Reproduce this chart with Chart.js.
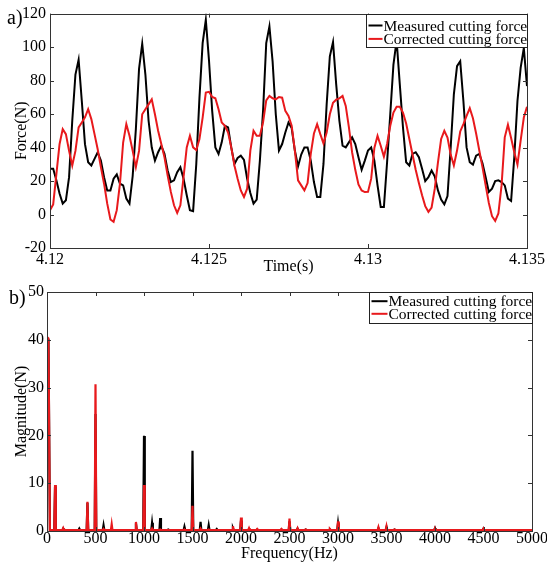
<!DOCTYPE html>
<html>
<head>
<meta charset="utf-8">
<script src="https://cdn.jsdelivr.net/npm/chart.js@4.4.1/dist/chart.umd.min.js"></script>
<style>
  html, body { margin: 0; padding: 0; background: #fff; }
  canvas { position: absolute; left: 0; }
</style>
</head>
<body>
<canvas id="force" width="547" height="278" style="top:0"></canvas>
<canvas id="spec" width="547" height="288" style="top:278px"></canvas>
<script>
// a) cutting force, sampled at 10 kHz starting at 4.12 s
const t0 = 4.12;
const dt = 0.0001;
const measuredForce = [
  27.3, 27.3, 20.4, 12.5, 6.5, 8.5, 22.3, 56, 83.6, 92.5,
  67.8, 42, 31.2, 29.3, 33.2, 37.2, 32.2, 22.3, 14.4, 14.4,
  21.4, 24, 18.4, 17.4, 9.5, 6.5, 23, 51, 87, 102,
  83.6, 56, 40, 32.2, 37.2, 41, 36.2, 26.3, 19.4, 20.4,
  25.3, 28.3, 21.4, 11.5, 2.6, 2, 30.2, 69.8, 102.4, 116.3,
  92, 61.9, 40.1, 36.2, 43.1, 53, 52, 40.1, 30.2, 33.8,
  35.2, 32.6, 21.4, 12.9, 6.5, 8.9, 32.2, 61.9, 102.4, 112.3,
  91.5, 59.9, 38.2, 42.1, 49, 55, 51.6, 38.2, 28.7, 35.8,
  40.1, 40.1, 32.2, 19.4, 10.5, 10.5, 30.2, 65.8, 94.5, 103,
  77.7, 56, 41.1, 40.1, 43.1, 46.1, 42.1, 34.2, 26.7, 32.2,
  38.2, 40.1, 32.2, 17.4, 4.5, 4.5, 31.2, 59.9, 89.6, 104,
  77.7, 52, 31.2, 29.3, 36.2, 37.2, 34.2, 27.3, 20, 22.3,
  26.3, 22.7, 14.4, 8.9, 6.1, 11, 40, 71.8, 88.6, 91.5,
  67.8, 40.1, 31.2, 29.8, 35.2, 36.2, 30.6, 22.3, 13.5, 15.4,
  20, 20.4, 19.4, 17.4, 9.5, 8.1, 34.2, 67.8, 87.6, 99.4,
  76.7
];
const correctedForce = [
  2.6, 6, 24, 42, 51, 48, 38, 29.3, 38, 52,
  55, 58, 62.9, 57, 48, 39, 28.3, 18.4, 6.5, -3,
  -4.4, 2.6, 18.4, 43, 54, 47, 38, 28.3, 38, 59.9,
  62.9, 65.8, 68.8, 59.9, 50, 42.1, 34.2, 23.3, 13.5, 5.5,
  1, 5.5, 22.3, 40.1, 47, 40.1, 38.5, 45.1, 57.9, 72.8,
  73.3, 70.2, 69.4, 62.9, 55, 53, 49, 40.1, 29.3, 21.4,
  14.4, 10.5, 15.4, 38.2, 50, 47, 47, 55, 68.2, 70.8,
  69.4, 68.8, 70.2, 69.8, 61.9, 58.9, 53, 38.2, 20.4, 17.4,
  14.4, 18.8, 36.2, 48.4, 54, 48, 42.5, 49, 59.9, 66.8,
  68.6, 69.4, 70.8, 64.9, 52, 37.2, 26.7, 18, 14.4, 13.4,
  13.5, 21.4, 39.7, 47, 41.1, 34.6, 42.1, 53, 60.9, 64.3,
  64.3, 60.9, 54.4, 45.1, 35.8, 26.7, 18.8, 11.5, 5, 1.6,
  4.2, 15.4, 31.2, 45.1, 50, 46, 35.8, 29.3, 38.2, 49.6,
  54, 58.9, 63.5, 57.5, 48.4, 38.2, 28.3, 17.4, 6.9, -1,
  -3.8, 0.6, 17.4, 46.1, 53.6, 45.7, 37.2, 29.9, 44.1, 57.9,
  64.3
];
const timeTicks = [4.12, 4.125, 4.13, 4.135];
const forceTicks = [-20, 0, 20, 40, 60, 80, 100, 120];

// b) spectrum: peak heights at each harmonic, flat noise floor between them
const peakFreq = [0, 83, 167, 333, 417, 500, 583, 667, 917, 1000, 1083, 1167, 1250, 1417, 1500, 1583, 1667, 1750,
  1917, 2000, 2083, 2167, 2417, 2500, 2583, 2667, 2917, 3000, 3417, 3500, 3583, 4000, 4500];
const measuredPeak = [40.3, 9.3, 0.5, 0.5, 5.9, 24.5, 1.2, 0.5, 1.6, 19.9, 1.7, 2.7, 0.3, 0.9, 16.8, 1.9, 1.2, 0.4,
  0.6, 2.2, 0.4, 0.3, 0.3, 2.0, 0.5, 0.3, 0.3, 1.6, 0.6, 0.8, 0.3, 0.6, 0.5];
const correctedPeak = [40.6, 9.6, 0.6, 0.2, 6.1, 30.7, 0.4, 1.4, 1.9, 9.6, 0.5, 0.3, 0.2, 0.3, 5.3, 0.5, 0.3, 0.2,
  1.0, 2.8, 0.6, 0.4, 0.4, 2.6, 0.6, 0.3, 0.4, 2.0, 0.8, 1.0, 0.3, 0.6, 0.5];
const dcLevel = [40.0, 40.3];   // second DC bin, measured / corrected
const noiseFloor = 0.2;
const freqTicks = [0, 500, 1000, 1500, 2000, 2500, 3000, 3500, 4000, 4500, 5000];
const magTicks = [0, 10, 20, 30, 40, 50];

const seriesNames = ["Measured cutting force", "Corrected cutting force"];
const seriesColors = ["#000000", "#e8191c"];

Chart.defaults.font.family = "'Liberation Serif', 'Times New Roman', serif";
Chart.defaults.font.size = 16;
Chart.defaults.color = "#000";

function timeSeries(values) {
  return values.map((v, i) => ({ x: t0 + i * dt, y: v }));
}

function spectrum(peaks, dc) {
  const pts = [{ x: 0, y: peaks[0] }, { x: 15, y: dc }, { x: 30, y: noiseFloor }];
  peakFreq.forEach((f, i) => {
    if (f === 0) return;
    pts.push({ x: f - 8, y: noiseFloor });
    pts.push({ x: f, y: peaks[i] });
    pts.push({ x: f + 8, y: noiseFloor });
  });
  pts.push({ x: 5000, y: noiseFloor });
  return pts;
}

// box round the plot, with short inward ticks on all four sides
const frameTicks = {
  id: "frameTicks",
  afterDatasetsDraw(chart) {
    const { ctx, chartArea: a, scales } = chart;
    const len = 4;
    ctx.save();
    ctx.strokeStyle = "#333";
    ctx.lineWidth = 1;
    ctx.beginPath();
    scales.x.ticks.forEach((t) => {
      const px = Math.round(scales.x.getPixelForValue(t.value)) + 0.5;
      ctx.moveTo(px, a.bottom);
      ctx.lineTo(px, a.bottom - len);
      ctx.moveTo(px, a.top);
      ctx.lineTo(px, a.top + len);
    });
    scales.y.ticks.forEach((t) => {
      const py = Math.round(scales.y.getPixelForValue(t.value)) + 0.5;
      ctx.moveTo(a.left, py);
      ctx.lineTo(a.left + len, py);
      ctx.moveTo(a.right, py);
      ctx.lineTo(a.right - len, py);
    });
    ctx.stroke();
    ctx.strokeRect(Math.round(a.left) + 0.5, Math.round(a.top) + 0.5, Math.round(a.width), Math.round(a.height));
    ctx.restore();
  },
};

// legend in a boxed corner, plus the panel letter
const boxLegend = {
  id: "boxLegend",
  afterDraw(chart, args, o) {
    const { ctx, chartArea: a } = chart;
    const x0 = Math.round(a.right - o.width) + 0.5;
    const y0 = Math.round(a.top) + 0.5;
    ctx.save();
    ctx.fillStyle = "#fff";
    ctx.fillRect(x0, y0, o.width, o.height);
    ctx.strokeStyle = "#222";
    ctx.lineWidth = 1;
    ctx.strokeRect(x0, y0, o.width, o.height);
    ctx.font = o.font;
    ctx.textBaseline = "middle";
    chart.data.datasets.forEach((ds, i) => {
      const y = y0 + o.first + i * o.step;
      ctx.strokeStyle = ds.borderColor;
      ctx.lineWidth = 2;
      ctx.beginPath();
      ctx.moveTo(x0 + 2, y);
      ctx.lineTo(x0 + 2 + o.sample, y);
      ctx.stroke();
      ctx.fillStyle = "#000";
      ctx.fillText(ds.label, x0 + 3 + o.sample, y + 1);
    });
    ctx.font = "20px 'Liberation Serif'";
    ctx.textBaseline = "alphabetic";
    ctx.fillText(o.panel, o.panelX, o.panelY);
    ctx.restore();
  },
};

// red is drawn over black (lower order = on top)
function lineSet(label, color, data, width, order) {
  return {
    label,
    data,
    order,
    borderColor: color,
    backgroundColor: color,
    borderWidth: width,
    pointRadius: 0,
    tension: 0,
  };
}

function fixedTicks(values) {
  return (scale) => {
    scale.ticks = values.map((v) => ({ value: v }));
  };
}

new Chart(document.getElementById("force"), {
  type: "line",
  data: {
    datasets: [
      lineSet(seriesNames[0], seriesColors[0], timeSeries(measuredForce), 2, 1),
      lineSet(seriesNames[1], seriesColors[1], timeSeries(correctedForce), 2, 0),
    ],
  },
  options: {
    responsive: false,
    animation: false,
    layout: { padding: { left: 0, right: 20, top: 12, bottom: 0 } },
    plugins: {
      legend: { display: false },
      tooltip: { enabled: false },
      boxLegend: {
        width: 161, height: 33, first: 11, step: 13.4, sample: 14,
        font: "15.5px 'Liberation Serif'",
        panel: "a)", panelX: 7, panelY: 24,
      },
    },
    scales: {
      x: {
        type: "linear",
        min: 4.12,
        max: 4.135,
        afterBuildTicks: fixedTicks(timeTicks),
        grid: { display: false, drawTicks: false },
        border: { display: false },
        ticks: { padding: 2, maxRotation: 0, callback: (v) => String(+v.toFixed(3)) },
        title: { display: true, text: "Time(s)", padding: { top: 0, bottom: 2 } },
        afterFit(s) { s.height = 30; s.paddingRight = 0; s.paddingLeft = 0; },
      },
      y: {
        min: -20,
        max: 120,
        afterBuildTicks: fixedTicks(forceTicks),
        grid: { display: false, drawTicks: false },
        border: { display: false },
        ticks: { padding: 4, callback: (v) => String(v) },
        title: { display: true, text: "Force(N)", padding: { top: 12, bottom: 0 } },
        afterFit(s) { s.width = 50; },
      },
    },
  },
  plugins: [frameTicks, boxLegend],
});

new Chart(document.getElementById("spec"), {
  type: "line",
  data: {
    datasets: [
      lineSet(seriesNames[0], seriesColors[0], spectrum(measuredPeak, dcLevel[0]), 2.2, 1),
      lineSet(seriesNames[1], seriesColors[1], spectrum(correctedPeak, dcLevel[1]), 2.2, 0),
    ],
  },
  options: {
    responsive: false,
    animation: false,
    layout: { padding: { left: 0, right: 15, top: 14, bottom: 0 } },
    plugins: {
      legend: { display: false },
      tooltip: { enabled: false },
      boxLegend: {
        width: 163, height: 31, first: 8.7, step: 12.6, sample: 16,
        font: "15.5px 'Liberation Serif'",
        panel: "b)", panelX: 9, panelY: 26,
      },
    },
    scales: {
      x: {
        type: "linear",
        min: 0,
        max: 5000,
        afterBuildTicks: fixedTicks(freqTicks),
        grid: { display: false, drawTicks: false },
        border: { display: false },
        ticks: { padding: -2, maxRotation: 0, autoSkip: false, callback: (v) => String(v) },
        title: { display: true, text: "Frequency(Hz)", padding: { top: 0, bottom: 3 } },
        afterFit(s) { s.height = 35; s.paddingRight = 0; s.paddingLeft = 0; },
      },
      y: {
        min: 0,
        max: 50,
        afterBuildTicks: fixedTicks(magTicks),
        grid: { display: false, drawTicks: false },
        border: { display: false },
        ticks: { padding: 3, callback: (v) => String(v) },
        title: { display: true, text: "Magnitude(N)", padding: { top: 12, bottom: 0 } },
        afterFit(s) { s.width = 47; },
      },
    },
  },
  plugins: [frameTicks, boxLegend],
});
</script>
</body>
</html>
